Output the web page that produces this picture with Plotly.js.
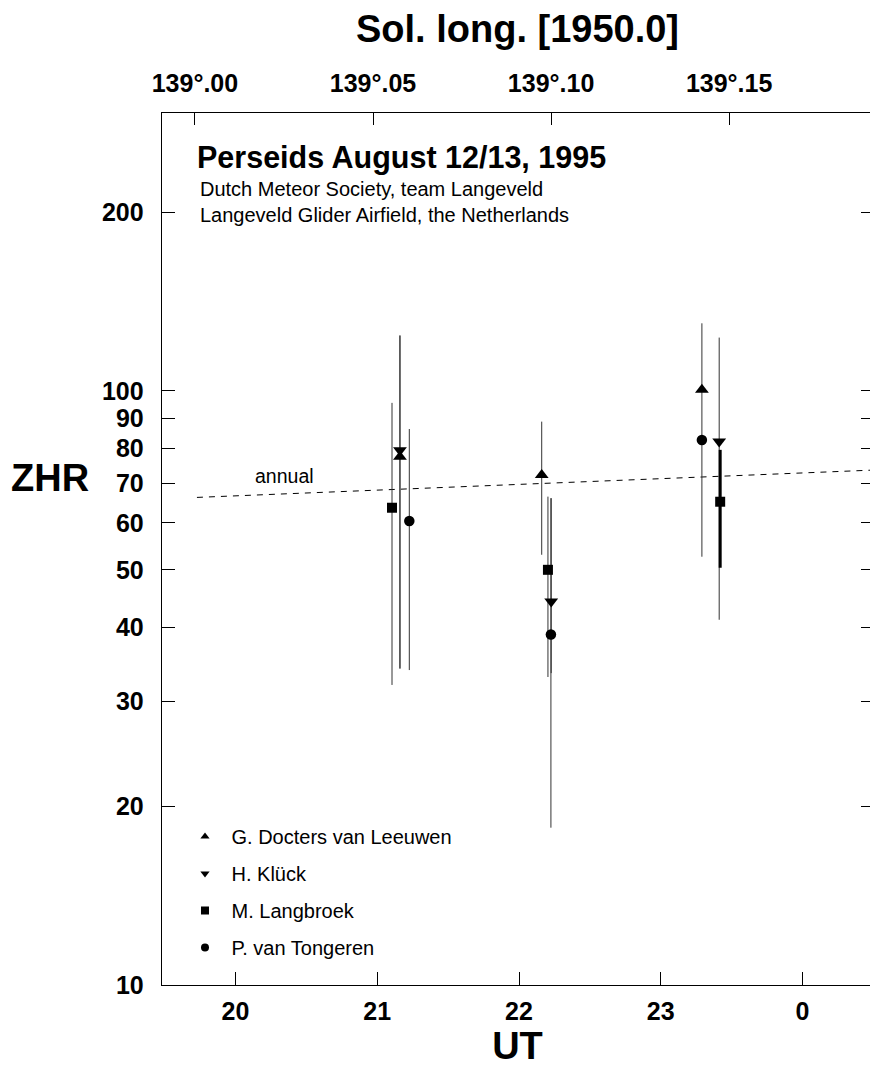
<!DOCTYPE html>
<html>
<head>
<meta charset="utf-8">
<script src="https://cdn.plot.ly/plotly-3.0.1.min.js"></script>
<style>html,body{margin:0;padding:0;overflow:hidden;background:#fff}</style>
</head>
<body>
<div id="chart"></div>
<script>
// ---- data (UT hours, ZHR) ----
const observers = ["G. Docters van Leeuwen", "H. Klück", "M. Langbroek", "P. van Tongeren"];

const doctersUT   = [21.16, 22.16, 23.29];
const doctersZHR  = [77.5, 72.2, 100.5];
const doctersHi   = [124, 88.8, 130];
const doctersLo   = [34.1, 53.0, 52.6];

const kluckUT     = [21.16, 22.227, 23.412];
const kluckZHR    = [79.5, 44.2, 82.2];
const kluckHi     = [124, 66.0, 123];
const kluckLo     = [34.1, 33.5, 41.2];

const langbroekUT  = [21.104, 22.204, 23.419];
const langbroekZHR = [63.6, 50.0, 65.1];
const langbroekHi  = [95.5, 66.4, 79.6];
const langbroekLo  = [32.0, 33.0, 50.4];

const tongerenUT  = [21.226, 22.225, 23.29];
const tongerenZHR = [60.4, 38.9, 82.7];
const tongerenHi  = [86.3, 66.0, null];
const tongerenLo  = [33.9, 18.4, null];

const annualUT  = [19.728, 24.5];
const annualZHR = [66.2, 73.6];

const yTicks = [10, 20, 30, 40, 50, 60, 70, 80, 90, 100, 200];
const xTicks = [20, 21, 22, 23, 24];
const xTickText = ["20", "21", "22", "23", "0"];
const solTicks = [139.00, 139.05, 139.10, 139.15];
const solTickText = ["139°.00", "139°.05", "139°.10", "139°.15"];

// ---- styles ----
const FONT = "Liberation Sans, Arial, Helvetica, sans-serif";
const series = [
  {name: observers[0], x: doctersUT, y: doctersZHR, hi: doctersHi, lo: doctersLo, symbol: "triangle-up", size: 12},
  {name: observers[1], x: kluckUT, y: kluckZHR, hi: kluckHi, lo: kluckLo, symbol: "triangle-down", size: 12},
  {name: observers[2], x: langbroekUT, y: langbroekZHR, hi: langbroekHi, lo: langbroekLo, symbol: "square", size: 10},
  {name: observers[3], x: tongerenUT, y: tongerenZHR, hi: tongerenHi, lo: tongerenLo, symbol: "circle", size: 10.5}
];
const thickBars = {"M. Langbroek": {2: 3}}; // series name -> point index -> line width

const traces = [];
traces.push({
  x: annualUT, y: annualZHR, mode: "lines", type: "scatter", showlegend: false, hoverinfo: "skip",
  line: {color: "#000", width: 1, dash: "6px,6px"}
});
series.forEach(s => {
  const thin = {x: [], y: []};
  const thick = {};
  s.x.forEach((xv, i) => {
    if (s.hi[i] == null) return;
    const w = thickBars[s.name] && thickBars[s.name][i];
    if (w) {
      if (!thick[w]) thick[w] = {x: [], y: []};
      thick[w].x.push(xv, xv, null); thick[w].y.push(s.lo[i], s.hi[i], null);
    } else {
      thin.x.push(xv, xv, null); thin.y.push(s.lo[i], s.hi[i], null);
    }
  });
  traces.push({x: thin.x, y: thin.y, mode: "lines", type: "scatter", showlegend: false, hoverinfo: "skip",
    line: {color: "#333", width: 1}});
  Object.keys(thick).forEach(w => {
    traces.push({x: thick[w].x, y: thick[w].y, mode: "lines", type: "scatter", showlegend: false, hoverinfo: "skip",
      line: {color: "#000", width: +w}});
  });
});
series.forEach((s, k) => {
  traces.push({
    x: s.x, y: s.y, name: s.name, mode: "markers", type: "scatter", showlegend: false,
    marker: {symbol: s.symbol, size: s.size, color: "#000", line: {width: 0}}
  });
});
// legend entries (smaller symbols as in the original key)
series.forEach((s, k) => {
  traces.push({
    x: [null], y: [null], name: s.name, mode: "markers", type: "scatter", legendgroup: "g" + k,
    marker: {symbol: s.symbol, size: 8, color: "#000", line: {width: 0}}
  });
});
traces.push({x: [solTicks[0]], y: [null], xaxis: "x2", yaxis: "y", mode: "markers", showlegend: false, hoverinfo: "skip"});
traces.push({x: [xTicks[0]], y: [null], xaxis: "x", yaxis: "y2", mode: "markers", showlegend: false, hoverinfo: "skip"});

const tickFont = {family: FONT, size: 25, color: "#000", weight: "bold"};
const titleFont = {family: FONT, size: 38, color: "#000", weight: "bold"};
const layout = {
  width: 873, height: 1067,
  margin: {l: 162, r: 0, t: 113, b: 82},
  paper_bgcolor: "#fff", plot_bgcolor: "#fff",
  showlegend: true,
  legend: {
    x: 0.0232, y: 0.1927, xanchor: "left", yanchor: "top",
    font: {family: FONT, size: 20, color: "#000"}, itemwidth: 43,
    bgcolor: "rgba(0,0,0,0)", borderwidth: 0, tracegroupgap: 8, itemclick: false
  },
  xaxis: {
    range: [19.4815, 24.497], tickvals: xTicks, ticktext: xTickText,
    ticks: "inside", ticklen: 13, tickwidth: 1, tickcolor: "#000",
    showline: true, linecolor: "#000", linewidth: 1.3, mirror: false,
    showgrid: false, zeroline: false, tickfont: tickFont, ticklabelstandoff: 4,
    title: {text: "UT", font: titleFont, standoff: 6}
  },
  xaxis2: {
    overlaying: "x", side: "top", anchor: "y",
    range: [138.99075, 139.1904], tickvals: solTicks, ticktext: solTickText,
    ticks: "inside", ticklen: 12, tickwidth: 1, tickcolor: "#000",
    showline: true, linecolor: "#000", linewidth: 1.3,
    showgrid: false, zeroline: false, tickfont: tickFont, ticklabelstandoff: 10,
    title: {text: "Sol. long. [1950.0]", font: titleFont, standoff: 14}
  },
  yaxis: {
    type: "log", range: [1, 2.468], tickvals: yTicks, ticktext: yTicks.map(String),
    ticks: "inside", ticklen: 13, tickwidth: 1, tickcolor: "#000",
    showline: true, linecolor: "#000", linewidth: 1.3, mirror: false,
    showgrid: false, zeroline: false, tickfont: tickFont, ticklabelstandoff: 12
  },
  yaxis2: {
    overlaying: "y", side: "right", anchor: "x",
    type: "log", range: [1, 2.468], tickvals: yTicks, showticklabels: false,
    ticks: "inside", ticklen: 12, tickwidth: 1, tickcolor: "#000",
    showline: false, showgrid: false, zeroline: false
  },
  annotations: [
    {text: "ZHR", xref: "paper", yref: "y", x: -0.158, y: Math.log10(71.4), xanchor: "center", yanchor: "middle",
     showarrow: false, font: titleFont},
    {text: "Perseids August 12/13, 1995", xref: "paper", yref: "paper", x: 0.046, y: (985 - 157) / 872, xanchor: "left", yanchor: "middle",
     showarrow: false, font: {family: FONT, size: 30.5, color: "#000", weight: "bold"}},
    {text: "Dutch Meteor Society, team Langeveld", xref: "paper", yref: "paper", x: 0.05, y: (985 - 189) / 872, xanchor: "left", yanchor: "middle",
     showarrow: false, font: {family: FONT, size: 20, color: "#000"}},
    {text: "Langeveld Glider Airfield, the Netherlands", xref: "paper", yref: "paper", x: 0.05, y: (985 - 215) / 872, xanchor: "left", yanchor: "middle",
     showarrow: false, font: {family: FONT, size: 20, color: "#000"}},
    {text: "annual", xref: "x", yref: "y", x: 20.347, y: Math.log10(71.8), xanchor: "center", yanchor: "middle",
     showarrow: false, font: {family: FONT, size: 19.5, color: "#000"}}
  ]
};

Plotly.newPlot("chart", traces, layout, {staticPlot: true, displayModeBar: false});
</script>
</body>
</html>
